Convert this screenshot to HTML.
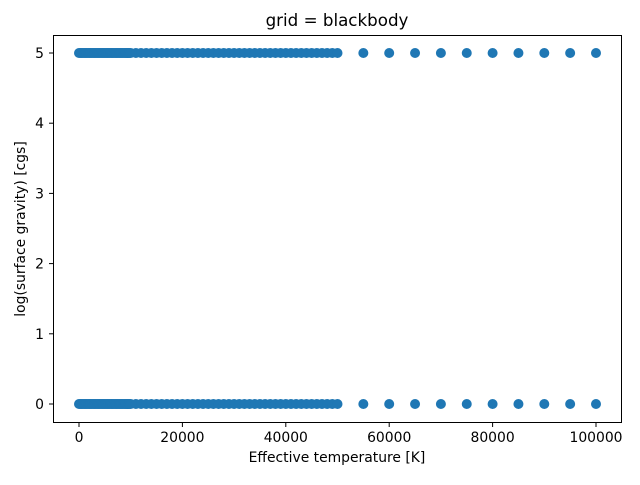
<!DOCTYPE html>
<html><head><meta charset="utf-8"><style>
body{margin:0;background:#fff}
text{font-family:"DejaVu Sans","Liberation Sans",sans-serif;fill:#000}
</style></head><body>
<svg id="chart" width="640" height="480" xmlns="http://www.w3.org/2000/svg">
<rect width="640" height="480" fill="#fff"/>
<text x="337" y="26" font-size="16.7" text-anchor="middle">grid = blackbody</text>
<g id="points"></g>
<rect x="53.5" y="35.5" width="568" height="387" fill="none" stroke="#000" stroke-width="1"/>
<g id="xticks"></g>
<g id="yticks"></g>
<text x="337" y="462" font-size="13.9" text-anchor="middle">Effective temperature [K]</text>
<text transform="translate(25,229) rotate(-90)" font-size="13.9" text-anchor="middle">log(surface gravity) [cgs]</text>
</svg>
<script>
const temps = [0,250,500,750,1000,1250,1500,1750,2000,2250,2500,2750,3000,3250,3500,3750,4000,4250,4500,4750,5000,5250,5500,5750,6000,6250,6500,6750,7000,7250,7500,7750,8000,8250,8500,8750,9000,9250,9500,9750,10000,
11000,12000,13000,14000,15000,16000,17000,18000,19000,20000,21000,22000,23000,24000,25000,26000,27000,28000,29000,30000,31000,32000,33000,34000,35000,36000,37000,38000,39000,40000,41000,42000,43000,44000,45000,46000,47000,48000,49000,50000,
55000,60000,65000,70000,75000,80000,85000,90000,95000,100000];
const gravities = [0, 5];
const xTicks = [0,20000,40000,60000,80000,100000];
const yTicks = [0,1,2,3,4,5];
const NS="http://www.w3.org/2000/svg";
function xs(v){return 79+v*(596-79)/100000;}
function ys(v){return 404-v*(404-53)/5;}
const pg=document.getElementById('points');
gravities.forEach(g=>{temps.forEach(t=>{
  const c=document.createElementNS(NS,'circle');
  c.setAttribute('cx',xs(t));c.setAttribute('cy',ys(g));c.setAttribute('r',5);c.setAttribute('fill','#1f77b4');
  
  
  pg.appendChild(c);
});});
const xg=document.getElementById('xticks');
xTicks.forEach(t=>{
  const l=document.createElementNS(NS,'line');
  l.setAttribute('x1',xs(t));l.setAttribute('x2',xs(t));l.setAttribute('y1',423);l.setAttribute('y2',427);l.setAttribute('stroke','#000');
  
  
  xg.appendChild(l);
  const tx=document.createElementNS(NS,'text');
  tx.setAttribute('x',xs(t));tx.setAttribute('y',442);tx.setAttribute('font-size','13.9');tx.setAttribute('text-anchor','middle');
  tx.textContent=t;
  
  
  xg.appendChild(tx);
});
const yg=document.getElementById('yticks');
yTicks.forEach(t=>{
  const l=document.createElementNS(NS,'line');
  l.setAttribute('x1',49);l.setAttribute('x2',53);l.setAttribute('y1',ys(t));l.setAttribute('y2',ys(t));l.setAttribute('stroke','#000');
  
  
  yg.appendChild(l);
  const tx=document.createElementNS(NS,'text');
  tx.setAttribute('x',44);tx.setAttribute('y',ys(t)+5);tx.setAttribute('font-size','13.9');tx.setAttribute('text-anchor','end');
  tx.textContent=t;
  
  
  yg.appendChild(tx);
});
</script>
</body></html>
